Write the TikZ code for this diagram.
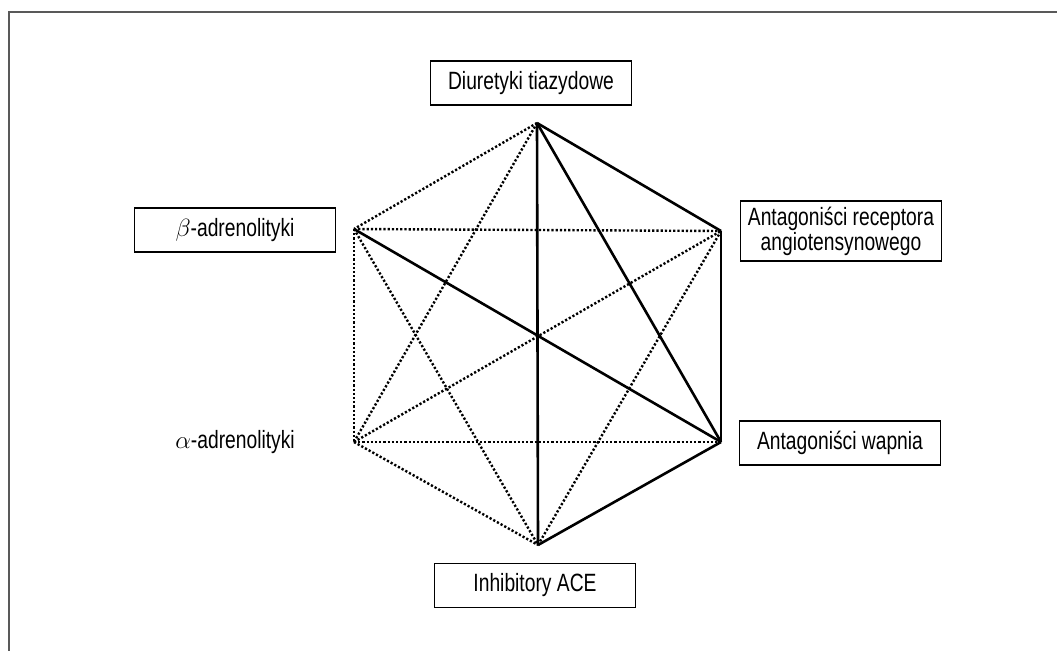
\documentclass[tikz,border=0pt]{standalone}
\usepackage{fontspec}
\setmainfont{Liberation Sans}[FakeStretch=0.77]
\usepackage{tikz}
\usetikzlibrary{positioning}
\usetikzlibrary{graphs}
\definecolor{framegray}{gray}{0.35}
\newcommand{\drugfont}{\fontsize{25}{25}\selectfont}
\tikzset{drug/.style={draw,line width=1.3pt,minimum width=201pt,minimum height=44pt,inner sep=0pt,align=center,font=\drugfont}}

\begin{document}
\begin{tikzpicture}[x=1pt,y=-1pt,every edge/.style={draw,line width=2.6pt},
        dots/.style={line width=2.4pt,dash pattern=on 2.2pt off 2pt}]
        \useasboundingbox (0,0) rectangle (1057,651);
        \draw[framegray,line width=2.4pt] (1057,12) -| (9,651);

        % corners of the hexagon
        \coordinate (t)  at (537,123);
        \coordinate (ur) at (721,231);
        \coordinate (lr) at (721,442);
        \coordinate (b)  at (538,545);
        \coordinate (ll) at (354,442);
        \coordinate (ul) at (354,229);

        \node (diur) [drug]                     at (531,83)     {Diuretyki tiazydowe};
        \node (beta) [drug]                     at (235,230)    {\(\beta\)-adrenolityki};
        \node (alfa) [font=\drugfont]           at (beta |- ll) {\(\alpha\)-adrenolityki};
        \node (arb)  [drug,minimum height=60pt] at (841,231)    {Antagoniści receptora\\angiotensynowego};
        \node (ca)   [drug]                     at (840,443)    {Antagoniści wapnia};
        \node (ace)  [drug]                     at (535,585.5)  {Inhibitory ACE};

        \graph{
            (t)  -- { (ur), (lr), (b) };
            (lr) -- { (ur), (b), (ul) };

            (t)  -- [dots] { (ul), (ll) };
            (ul) -- [dots] { (ur), (ll), (b) };
            (ll) -- [dots] { (ur), (lr), (b) };
            (ur) -- [dots] (b);
        };
    \end{tikzpicture}
\end{document}
